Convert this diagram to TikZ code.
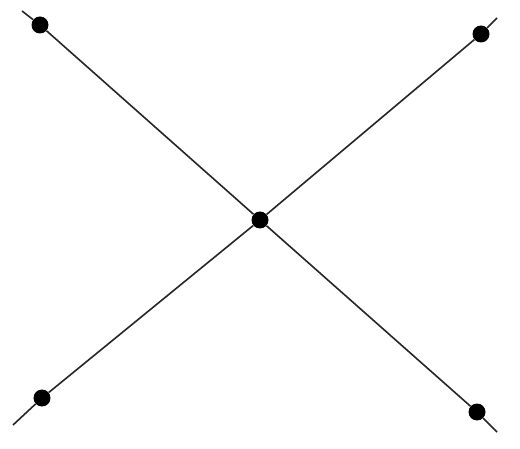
\documentclass[tikz,border=0pt]{standalone}
\begin{document}
\begin{tikzpicture}[x=1pt,y=-1pt,
  dot/.style={circle,fill=black,inner sep=0pt,minimum size=17pt},
  wire/.style={draw=black!85,line width=1.6pt}]
\useasboundingbox[fill=white] (0,0) rectangle (520,449);
\coordinate (e1) at (22,11);
\coordinate (e2) at (497,432);
\coordinate (e3) at (13,425);
\coordinate (e4) at (497,18);
\node[dot] (tl) at (40,25) {};
\node[dot] (tr) at (481,34) {};
\node[dot] (c) at (260,220) {};
\node[dot] (bl) at (42,398) {};
\node[dot] (br) at (477,412) {};
\draw[wire] (e1) -- (tl) -- (c) -- (br) -- (e2);
\draw[wire] (e3) -- (bl) -- (c) -- (tr) -- (e4);
\end{tikzpicture}
\end{document}
